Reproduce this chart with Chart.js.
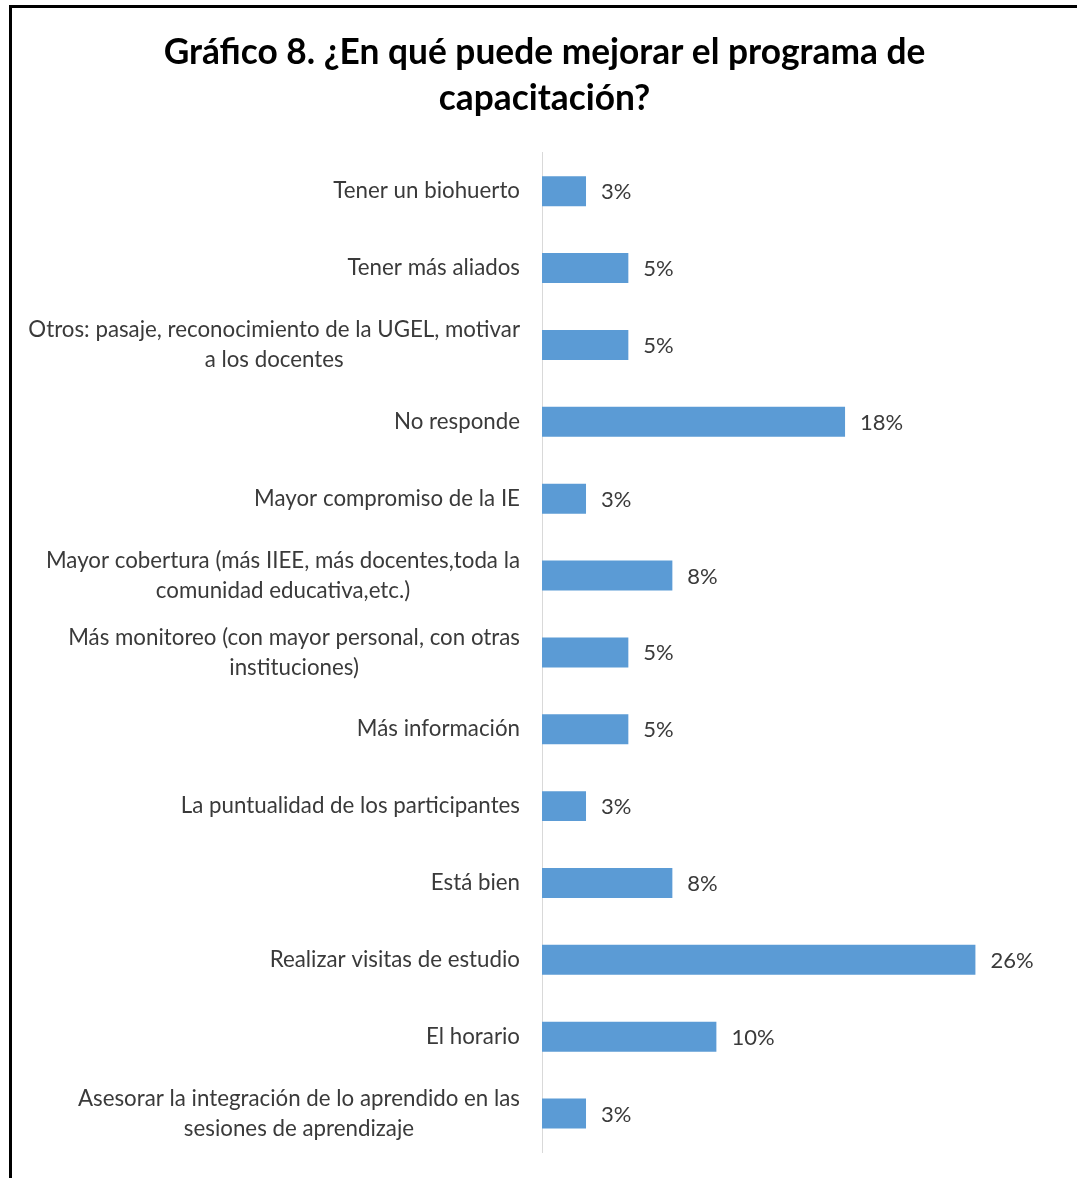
<!DOCTYPE html>
<html lang="es">
<head>
    <meta charset="UTF-8">
    <title>Gráfico 8</title>
    <script src="https://cdn.jsdelivr.net/npm/chart.js"></script>
    <style>
        body {
            margin: 0;
            background: #ffffff;
        }
        .wrap {
            position: relative;
            width: 1077px;
            height: 1178px;
        }
        .frame {
            position: absolute;
            left: 9px;
            top: 5px;
            right: 0;
            bottom: 0;
            border-top: 3px solid #000;
            border-left: 3px solid #000;
            pointer-events: none;
        }
    </style>
</head>
<body>
    <div class="wrap">
        <canvas id="chart" width="1077" height="1178"></canvas>
        <div class="frame"></div>
    </div>

    <script>
        // Categorías (en el orden de arriba hacia abajo)
        const categorias = [
            "Tener un biohuerto",
            "Tener más aliados",
            ["Otros: pasaje, reconocimiento de la UGEL, motivar", "a los docentes"],
            "No responde",
            "Mayor compromiso de la IE",
            ["Mayor cobertura (más IIEE, más docentes,toda la", "comunidad educativa,etc.)"],
            ["Más monitoreo (con mayor personal, con otras", "instituciones)"],
            "Más información",
            "La puntualidad de los participantes",
            "Está bien",
            "Realizar visitas de estudio",
            "El horario",
            ["Asesorar la integración de lo aprendido en las", "sesiones de aprendizaje"]
        ];

        const porcentajes = [2.6, 5.1, 5.1, 17.9, 2.6, 7.7, 5.1, 5.1, 2.6, 7.7, 25.6, 10.3, 2.6];

        const titulo = ["Gráfico 8. ¿En qué puede mejorar el programa de", "capacitación?"];

        const FUENTE = "Lato, 'Open Sans', sans-serif";
        const COLOR_TEXTO = "#3a3a3a";

        // Etiquetas de categorías centradas por línea, alineadas a la derecha del bloque
        const etiquetasCategorias = {
            id: "etiquetasCategorias",
            afterDraw(chart) {
                const ctx = chart.ctx;
                const y = chart.scales.y;
                const derecha = y.right - 22;
                ctx.save();
                ctx.font = "22.3px " + FUENTE;
                ctx.fillStyle = COLOR_TEXTO;
                ctx.textAlign = "center";
                ctx.textBaseline = "middle";
                categorias.forEach((cat, i) => {
                    const lineas = Array.isArray(cat) ? cat : [cat];
                    const ancho = Math.max(...lineas.map(l => ctx.measureText(l).width));
                    const cx = derecha - ancho / 2;
                    const yc = y.getPixelForTick(i);
                    const alto = 30;
                    lineas.forEach((l, j) => {
                        ctx.fillText(l, cx, yc + (j - (lineas.length - 1) / 2) * alto);
                    });
                });
                ctx.restore();
            }
        };

        // Etiquetas de datos al final de cada barra
        const etiquetasDatos = {
            id: "etiquetasDatos",
            afterDatasetsDraw(chart) {
                const ctx = chart.ctx;
                const meta = chart.getDatasetMeta(0);
                ctx.save();
                ctx.font = "22px " + FUENTE;
                ctx.fillStyle = COLOR_TEXTO;
                ctx.textAlign = "left";
                ctx.textBaseline = "middle";
                meta.data.forEach((bar, i) => {
                    ctx.fillText(Math.round(porcentajes[i]) + "%", bar.x + 15, bar.y + 1);
                });
                ctx.restore();
            }
        };

        new Chart(document.getElementById("chart"), {
            type: "bar",
            data: {
                labels: categorias,
                datasets: [{
                    data: porcentajes,
                    backgroundColor: "#5b9bd5",
                    barPercentage: 0.78,
                    categoryPercentage: 0.5
                }]
            },
            options: {
                indexAxis: "y",
                responsive: false,
                animation: false,
                layout: {
                    padding: { left: 12, right: 0, bottom: 26 }
                },
                plugins: {
                    legend: { display: false },
                    tooltip: { enabled: false },
                    title: {
                        display: true,
                        text: titulo,
                        color: "#000000",
                        font: { family: FUENTE, size: 35.3, weight: "bold", lineHeight: 1.3 },
                        padding: { top: 30, bottom: 31 }
                    }
                },
                scales: {
                    x: {
                        display: false,
                        min: 0,
                        max: 31.6
                    },
                    y: {
                        grid: { display: false },
                        border: { display: true, color: "#d9d9d9", width: 1 },
                        ticks: { display: false },
                        afterFit(scale) {
                            scale.width = 530;
                        }
                    }
                }
            },
            plugins: [etiquetasCategorias, etiquetasDatos]
        });
    </script>
</body>
</html>
